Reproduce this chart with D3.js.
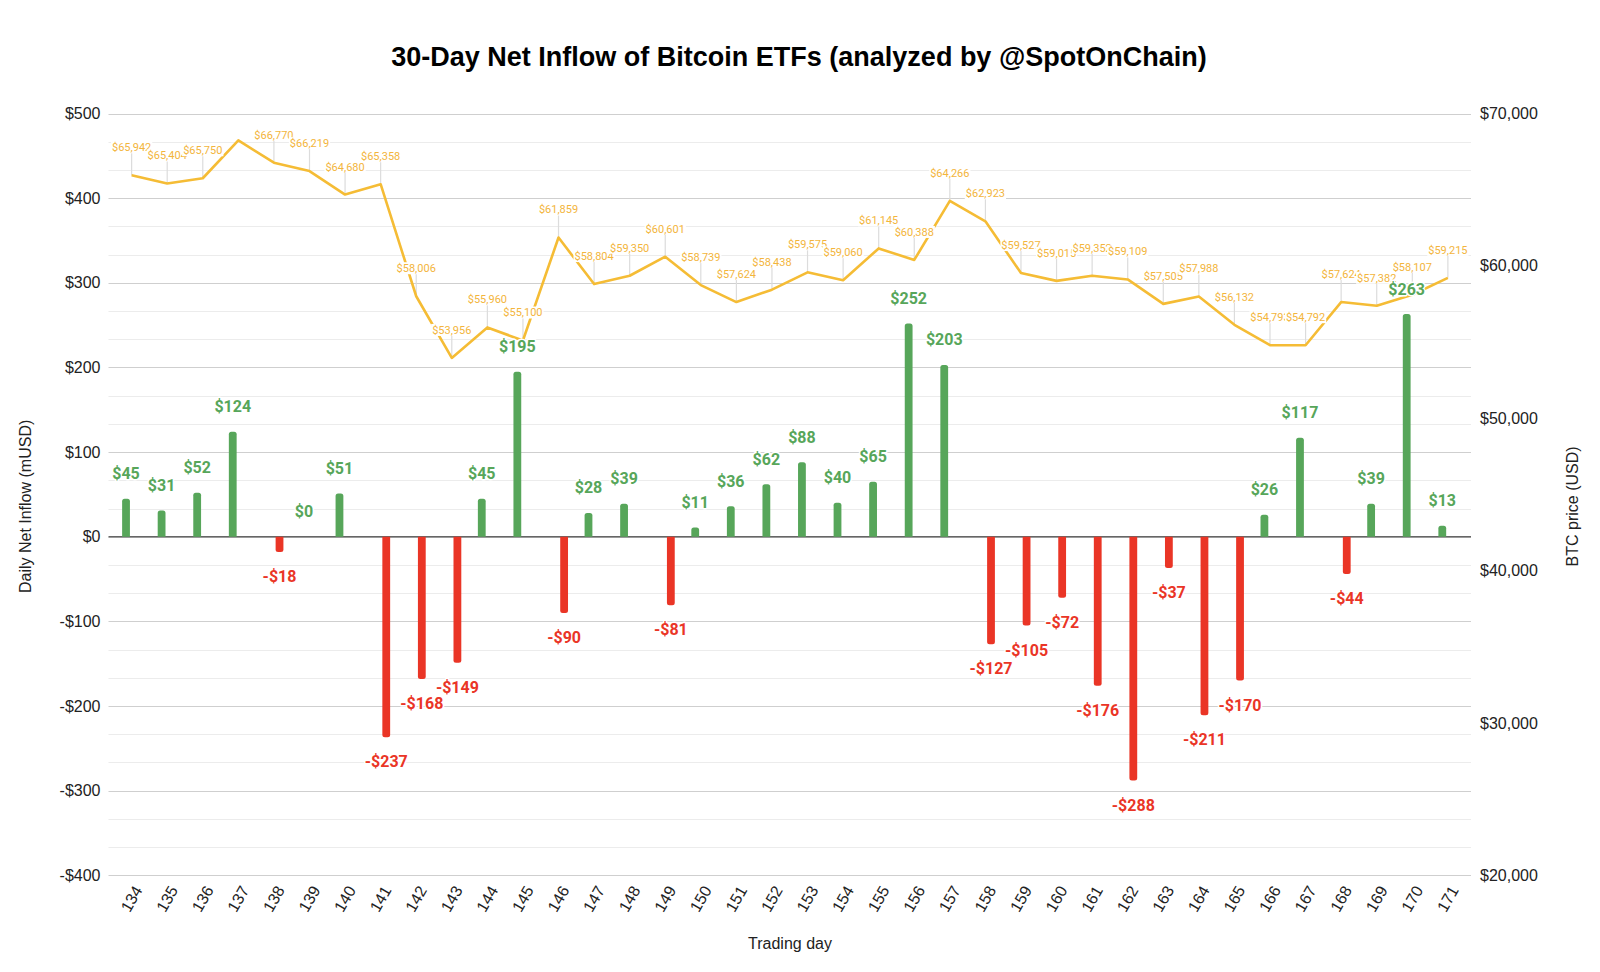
<!DOCTYPE html>
<html>
<head>
<meta charset="utf-8">
<script src="https://cdn.jsdelivr.net/npm/d3@7"></script>
<style>
  html, body { margin: 0; padding: 0; background: #fff; }
  svg { display: block; }
</style>
</head>
<body>
<svg id="chart" width="1600" height="972"></svg>
<script>
// ---- Data ----
const days = [134,135,136,137,138,139,140,141,142,143,144,145,146,147,148,149,150,151,152,153,154,155,156,157,158,159,160,161,162,163,164,165,166,167,168,169,170,171];
const netInflow = [45,31,52,124,-18,0,51,-237,-168,-149,45,195,-90,28,39,-81,11,36,62,88,40,65,252,203,-127,-105,-72,-176,-288,-37,-211,-170,26,117,-44,39,263,13];
const btcPrice = [65942,65404,65750,68240,66770,66219,64680,65358,58006,53956,55960,55100,61859,58804,59350,60601,58739,57624,58438,59575,59060,61145,60388,64266,62923,59527,59015,59352,59109,57505,57988,56132,54793,54792,57624,57382,58107,59215];
const leftTicks = [500,400,300,200,100,0,-100,-200,-300,-400];
const rightTicks = [70000,60000,50000,40000,30000,20000];
const titleText = "30-Day Net Inflow of Bitcoin ETFs (analyzed by @SpotOnChain)";

// ---- Layout ----
const W = 1600, H = 972;
const plot = { left: 108.5, right: 1471, top: 113.5, bottom: 875.3 };
const GREEN = "#57a65a", RED = "#ea3526", GOLD = "#f5bc35", GOLD_TXT = "#f3b53c";

const svg = d3.select("#chart");

const x = d3.scalePoint().domain(days).range([plot.left, plot.right]).padding(0.65);
const yL = d3.scaleLinear().domain([-400, 500]).range([plot.bottom, plot.top]);
const yR = d3.scaleLinear().domain([20000, 70000]).range([plot.bottom, plot.top]);

// gridlines: every 100/3 mUSD
const gridVals = d3.range(0, 28).map(i => -400 + i * 100 / 3);
svg.append("g").selectAll("line").data(gridVals).join("line")
  .attr("x1", plot.left).attr("x2", plot.right)
  .attr("y1", d => Math.round(yL(d)) + 0.5).attr("y2", d => Math.round(yL(d)) + 0.5)
  .attr("stroke", (d, i) => (i % 3 === 0) ? "#cfcfcf" : "#ececec")
  .attr("stroke-width", 1.2);

// zero line
svg.append("line")
  .attr("x1", plot.left).attr("x2", plot.right)
  .attr("y1", yL(0)).attr("y2", yL(0))
  .attr("stroke", "#666").attr("stroke-width", 1.6);

// left axis labels
const leftAxis = d3.axisLeft(yL).tickValues(leftTicks).tickSize(0).tickPadding(8)
  .tickFormat(d => (d < 0 ? "-$" : "$") + Math.abs(d));
const gL = svg.append("g").attr("transform", `translate(${plot.left},0)`).call(leftAxis);
gL.select(".domain").remove();
gL.selectAll("text").attr("font-family", "Liberation Sans, Arial, sans-serif").attr("font-size", 16).attr("fill", "#222");

// right axis labels
const rightAxis = d3.axisRight(yR).tickValues(rightTicks).tickSize(0).tickPadding(9)
  .tickFormat(d => "$" + d3.format(",")(d));
const gR = svg.append("g").attr("transform", `translate(${plot.right},0)`).call(rightAxis);
gR.select(".domain").remove();
gR.selectAll("text").attr("font-family", "Liberation Sans, Arial, sans-serif").attr("font-size", 16).attr("fill", "#222");

// x axis labels
const xAxis = d3.axisBottom(x).tickSize(0).tickPadding(0);
const gX = svg.append("g").attr("transform", `translate(0,${plot.bottom})`).call(xAxis);
gX.select(".domain").remove();
gX.selectAll("text")
  .attr("font-family", "Liberation Sans, Arial, sans-serif").attr("font-size", 16).attr("fill", "#222")
  .attr("text-anchor", "end")
  .attr("dy", "0.35em").attr("y", 0)
  .attr("transform", "translate(6,12) rotate(-60)");

// bars
const barW = 7.8, off = 5.6, r = 2.5;
function barPath(d, i) {
  const v = netInflow[i];
  const cx = x(days[i]) + (v >= 0 ? -off : off);
  const x0 = cx - barW / 2, x1 = cx + barW / 2;
  const y0 = yL(0), y1 = yL(v);
  if (Math.abs(y1 - y0) < 0.5) return "";
  if (v >= 0) {
    const rr = Math.min(r, (y0 - y1));
    return `M${x0},${y0} L${x0},${y1 + rr} Q${x0},${y1} ${x0 + rr},${y1} L${x1 - rr},${y1} Q${x1},${y1} ${x1},${y1 + rr} L${x1},${y0} Z`;
  } else {
    const rr = Math.min(r, (y1 - y0));
    return `M${x0},${y0} L${x0},${y1 - rr} Q${x0},${y1} ${x0 + rr},${y1} L${x1 - rr},${y1} Q${x1},${y1} ${x1},${y1 - rr} L${x1},${y0} Z`;
  }
}
svg.append("g").selectAll("path").data(days).join("path")
  .attr("d", barPath)
  .attr("fill", (d, i) => netInflow[i] >= 0 ? GREEN : RED);

// price leader lines
const labelOffset = 28;
const priceData = days.map((d, i) => ({ d, v: btcPrice[i], px: x(d), py: yR(btcPrice[i]) }))
  .map(o => ({ ...o, ly: o.py - labelOffset, show: (o.py - labelOffset) >= plot.top }));

svg.append("g").selectAll("line").data(priceData.filter(o => o.show)).join("line")
  .attr("x1", o => o.px).attr("x2", o => o.px)
  .attr("y1", o => o.py).attr("y2", o => o.ly + 5)
  .attr("stroke", "#dcdcdc").attr("stroke-width", 1.2);

// price line
svg.append("path").datum(priceData)
  .attr("d", d3.line().x(o => o.px).y(o => o.py))
  .attr("fill", "none").attr("stroke", GOLD).attr("stroke-width", 2.6).attr("stroke-linejoin", "round");

// price labels (with white background, later ones on top)
const pl = svg.append("g");
priceData.filter(o => o.show).forEach(o => {
  const g = pl.append("g");
  const t = g.append("text")
    .attr("x", o.px).attr("y", o.ly).attr("dy", "0.36em")
    .attr("text-anchor", "middle")
    .attr("font-family", "Roboto, sans-serif").attr("font-size", 11)
    .attr("fill", GOLD_TXT)
    .text("$" + d3.format(",")(o.v));
  const bb = t.node().getBBox();
  g.insert("rect", "text")
    .attr("x", bb.x - 1).attr("y", o.ly - 6).attr("width", bb.width + 2).attr("height", 12)
    .attr("fill", "#fff");
});

// bar value labels
svg.append("g").selectAll("text").data(days).join("text")
  .attr("x", (d, i) => x(d) + (netInflow[i] >= 0 ? -off : off))
  .attr("y", (d, i) => netInflow[i] >= 0 ? yL(netInflow[i]) - 25.3 : yL(netInflow[i]) + 24.4)
  .attr("dy", "0.36em")
  .attr("text-anchor", "middle")
  .attr("font-family", "Roboto, sans-serif").attr("font-weight", 700).attr("font-size", 16)
  .attr("fill", (d, i) => netInflow[i] >= 0 ? GREEN : RED)
  .attr("stroke", "#fff").attr("stroke-width", 3).attr("paint-order", "stroke").attr("stroke-linejoin", "round")
  .text((d, i) => (netInflow[i] < 0 ? "-$" : "$") + Math.abs(netInflow[i]));

// title
svg.append("text")
  .attr("x", 799).attr("y", 57).attr("dy", "0.35em")
  .attr("text-anchor", "middle")
  .attr("font-family", "Liberation Sans, Arial, sans-serif").attr("font-weight", 700).attr("font-size", 27)
  .attr("fill", "#000")
  .text(titleText);

// axis titles
svg.append("text")
  .attr("transform", `translate(25,${(plot.top + plot.bottom) / 2 + 12}) rotate(-90)`)
  .attr("dy", "0.35em").attr("text-anchor", "middle")
  .attr("font-family", "Liberation Sans, Arial, sans-serif").attr("font-size", 16).attr("fill", "#222")
  .text("Daily Net Inflow (mUSD)");
svg.append("text")
  .attr("transform", `translate(1572,${(plot.top + plot.bottom) / 2 + 12}) rotate(-90)`)
  .attr("dy", "0.35em").attr("text-anchor", "middle")
  .attr("font-family", "Liberation Sans, Arial, sans-serif").attr("font-size", 16).attr("fill", "#222")
  .text("BTC price (USD)");
svg.append("text")
  .attr("x", 790).attr("y", 943).attr("dy", "0.35em")
  .attr("text-anchor", "middle")
  .attr("font-family", "Liberation Sans, Arial, sans-serif").attr("font-size", 16).attr("fill", "#222")
  .text("Trading day");
</script>
</body>
</html>
